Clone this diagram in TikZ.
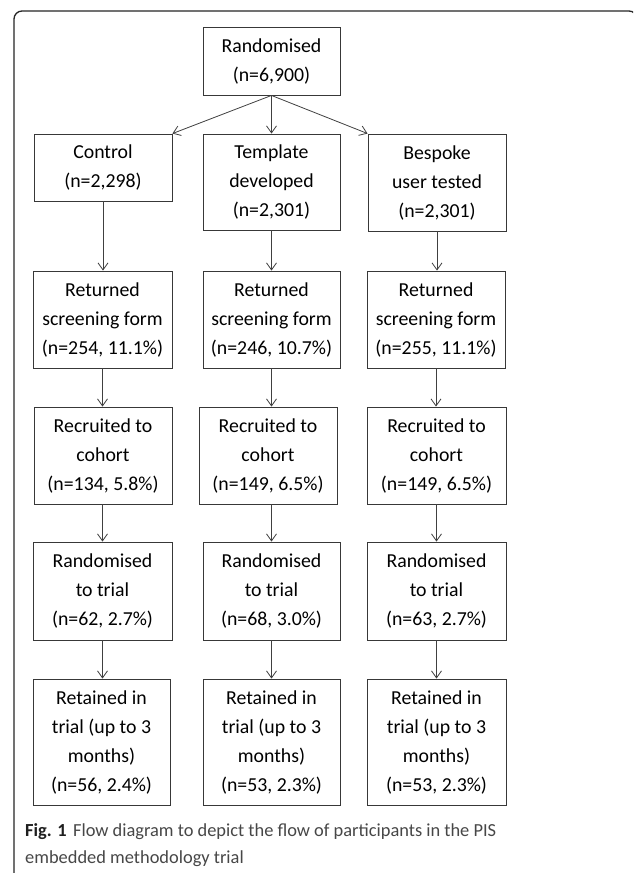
\documentclass[tikz,border=0pt]{standalone}
\usepackage{fontspec}
\setmainfont{Carlito}
\usetikzlibrary{arrows.meta}
\begin{document}
\begin{tikzpicture}[x=1pt,y=-1pt,
  box/.style={draw=black!78, line width=0.9pt, inner sep=0pt, align=center,
    font=\fontsize{19.8}{29}\selectfont, text=black},
  conn/.style={draw=black!75, line width=0.8pt, -{Straight Barb[length=7pt,width=10pt,line width=0.8pt]}},
  frame/.style={draw=black!85, line width=1.3pt, rounded corners=8pt},
  captxt/.style={anchor=base west, inner sep=0pt, font=\fontsize{18.4}{27}\selectfont, text=black!72}
]
\useasboundingbox (0,0) rectangle (633,873);
\fill[white] (0,0) rectangle (633,873);
\begin{scope}
\clip (0,0) rectangle (633,873);
\draw[frame] (14,890) -- (14,11) -- (637,11) -- (637,890);
\end{scope}

% top
\node[box, minimum width=137pt, minimum height=68pt] (top) at (271.5,61) {Randomised\\(n=6,900)};

% row 1
\node[box, minimum width=138pt, minimum height=67pt] (c1) at (103,167.5) {Control\\(n=2,298)};
\node[box, minimum width=137pt, minimum height=96pt] (t1) at (271.5,182) {Template\\developed\\(n=2,301)};
\node[box, minimum width=138pt, minimum height=97pt] (b1) at (437,182.5) {Bespoke\\user tested\\(n=2,301)};

% row 2
\node[box, minimum width=139pt, minimum height=97pt] (c2) at (102.5,319.5) {Returned\\screening form\\(n=254, 11.1\%)};
\node[box, minimum width=137pt, minimum height=97pt] (t2) at (271.5,319.5) {Returned\\screening form\\(n=246, 10.7\%)};
\node[box, minimum width=138pt, minimum height=97pt] (b2) at (436,319.5) {Returned\\screening form\\(n=255, 11.1\%)};

% row 3
\node[box, minimum width=138pt, minimum height=97pt] (c3) at (103,455.5) {Recruited to\\cohort\\(n=134, 5.8\%)};
\node[box, minimum width=138pt, minimum height=97pt] (t3) at (268,455.5) {Recruited to\\cohort\\(n=149, 6.5\%)};
\node[box, minimum width=139pt, minimum height=97pt] (b3) at (436.5,455.5) {Recruited to\\cohort\\(n=149, 6.5\%)};

% row 4
\node[box, minimum width=139pt, minimum height=98pt] (c4) at (102.5,591) {Randomised\\to trial\\(n=62, 2.7\%)};
\node[box, minimum width=137pt, minimum height=98pt] (t4) at (271.5,591) {Randomised\\to trial\\(n=68, 3.0\%)};
\node[box, minimum width=139pt, minimum height=98pt] (b4) at (436.5,591) {Randomised\\to trial\\(n=63, 2.7\%)};

% row 5
\node[box, minimum width=137pt, minimum height=126pt] (c5) at (101.5,742) {Retained in\\trial (up to 3\\months)\\(n=56, 2.4\%)};
\node[box, minimum width=137pt, minimum height=126pt] (t5) at (271.5,742) {Retained in\\trial (up to 3\\months)\\(n=53, 2.3\%)};
\node[box, minimum width=139pt, minimum height=126pt] (b5) at (436.5,742) {Retained in\\trial (up to 3\\months)\\(n=53, 2.3\%)};

% connectors from top
\draw[conn] (top.south) -- (c1.north east);
\draw[conn] (top.south) -- (t1.north);
\draw[conn] (top.south) -- (b1.north west);

% vertical connectors
\draw[conn] (c1.south) -- (c1.south |- c2.north);
\draw[conn] (t1.south) -- (t1.south |- t2.north);
\draw[conn] (b1.south) -- (b1.south |- b2.north);

\draw[conn] (c2.south) -- (c2.south |- c3.north);
\draw[conn] (t2.south) -- (t2.south |- t3.north);
\draw[conn] (b2.south) -- (b2.south |- b3.north);

\draw[conn] (c4.north |- c3.south) -- (c4.north);
\draw[conn] (t4.north |- t3.south) -- (t4.north);
\draw[conn] (b3.south) -- (b3.south |- b4.north);

\draw[conn] (c4.south) -- (c4.south |- c5.north);
\draw[conn] (t4.south) -- (t4.south |- t5.north);
\draw[conn] (b4.south) -- (b4.south |- b5.north);

% caption
\node[captxt] (cap1) at (25,836) {\textbf{\color{black!88}Fig. 1}\hspace{0.35em}Flow diagram to depict the flow of participants in the PIS};
\node[captxt] (cap2) at (25,863) {embedded methodology trial};
\end{tikzpicture}
\end{document}
